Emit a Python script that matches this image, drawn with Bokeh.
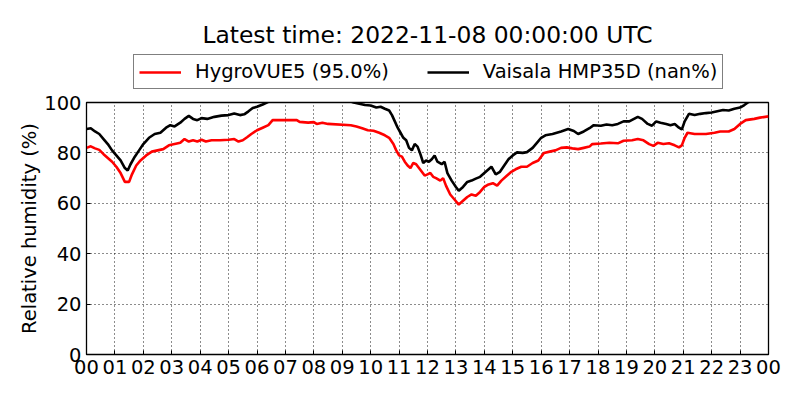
from bokeh.plotting import figure
from bokeh.models import FixedTicker, Legend, LegendItem, Range1d
from bokeh.layouts import column
from bokeh.embed import file_html
from bokeh.resources import INLINE

# ---- data (hours since 00 UTC, relative humidity %) ----
t_hygro = [0.0, 0.15, 0.3, 0.45, 0.6, 0.75, 0.9, 1.05, 1.2, 1.35, 1.5, 1.6, 1.75, 1.9, 2.1, 2.3, 2.5, 2.7,
           2.9, 3.1, 3.3, 3.45, 3.6, 3.75, 3.9, 4.05, 4.2, 4.4, 4.7, 5.0, 5.2, 5.35, 5.5, 5.65, 5.8, 6.0,
           6.2, 6.4, 6.55, 7.4, 7.5, 7.8, 8.0, 8.1, 8.3, 8.5, 9.3, 9.5, 9.7, 9.9, 10.1, 10.3, 10.5, 10.65,
           10.8, 10.9, 11.0, 11.1, 11.2, 11.3, 11.4, 11.5, 11.6, 11.7, 11.8, 11.9, 12.0, 12.1, 12.2, 12.3,
           12.45, 12.55, 12.65, 12.8, 12.95, 13.1, 13.25, 13.4, 13.55, 13.7, 13.85, 14.0, 14.15, 14.3,
           14.45, 14.6, 14.8, 14.95, 15.1, 15.3, 15.5, 15.7, 15.9, 16.1, 16.3, 16.5, 16.7, 16.9, 17.1,
           17.3, 17.5, 17.7, 17.8, 18.1, 18.4, 18.7, 18.9, 19.2, 19.4, 19.6, 19.8, 19.95, 20.1, 20.3,
           20.5, 20.7, 20.85, 20.95, 21.05, 21.15, 21.4, 21.8, 22.1, 22.3, 22.6, 22.8, 23.0, 23.2, 23.5,
           23.7, 24.0]
rh_hygro = [82.0, 82.6, 81.8, 81.2, 79.5, 78.0, 76.5, 74.5, 72.0, 68.5, 68.5, 71.5, 75.0, 77.0, 79.0, 80.5,
            81.0, 81.5, 83.0, 83.5, 84.0, 85.5, 84.5, 85.0, 84.5, 85.2, 84.5, 85.0, 85.0, 85.2, 85.5, 84.5,
            85.0, 86.2, 87.5, 89.0, 90.0, 91.0, 93.0, 93.0, 92.3, 92.0, 92.2, 91.5, 92.0, 91.5, 91.0, 90.5,
            89.8, 89.0, 88.8, 88.0, 87.0, 86.0, 83.5, 81.0, 79.0, 78.5, 76.5, 75.0, 74.0, 76.0, 75.5, 74.0,
            72.5, 71.0, 71.5, 72.0, 70.5, 70.0, 69.0, 70.0, 67.0, 63.5, 61.5, 59.5, 61.0, 62.5, 63.5, 63.0,
            64.5, 66.5, 67.5, 68.0, 67.0, 69.0, 71.0, 72.5, 73.5, 74.5, 74.5, 76.0, 77.0, 80.0, 80.5, 81.0,
            82.0, 82.2, 81.8, 81.5, 82.0, 82.5, 83.5, 83.7, 84.0, 83.8, 84.8, 85.0, 85.5, 85.0, 83.5, 82.8,
            84.0, 83.5, 83.8, 83.0, 82.2, 83.0, 86.0, 88.0, 87.5, 87.5, 88.0, 88.5, 88.5, 89.5, 91.5, 93.0,
            93.5, 94.0, 94.5]

t_vaisala = [0.0, 0.15, 0.3, 0.45, 0.6, 0.75, 0.9, 1.05, 1.2, 1.35, 1.45, 1.55, 1.7, 1.85, 2.0, 2.2, 2.4,
             2.6, 2.8, 2.95, 3.1, 3.3, 3.45, 3.6, 3.75, 3.9, 4.05, 4.25, 4.5, 4.75, 5.0, 5.2, 5.4, 5.55,
             5.7, 5.85, 6.0, 6.2, 6.4, 6.6, 7.0, 8.0, 8.8, 9.2, 9.4, 9.6, 9.8, 10.0, 10.2, 10.35, 10.5,
             10.65, 10.75, 10.85, 10.95, 11.05, 11.15, 11.25, 11.35, 11.45, 11.55, 11.65, 11.75, 11.85,
             11.95, 12.05, 12.15, 12.25, 12.35, 12.5, 12.6, 12.7, 12.85, 13.0, 13.1, 13.25, 13.4, 13.55,
             13.7, 13.85, 14.0, 14.15, 14.25, 14.4, 14.55, 14.7, 14.85, 15.0, 15.15, 15.35, 15.5, 15.7,
             15.85, 16.0, 16.15, 16.4, 16.7, 16.95, 17.15, 17.3, 17.5, 17.7, 17.85, 18.1, 18.3, 18.5,
             18.7, 18.9, 19.1, 19.4, 19.55, 19.75, 19.9, 20.05, 20.2, 20.4, 20.55, 20.7, 20.85, 20.95,
             21.05, 21.2, 21.4, 21.6, 21.8, 22.0, 22.2, 22.4, 22.6, 22.8, 23.0, 23.15, 23.3, 23.6, 24.0]
rh_vaisala = [89.5, 89.8, 88.5, 87.5, 85.5, 83.5, 81.0, 79.0, 77.0, 74.0, 73.0, 75.5, 78.5, 81.0, 83.5,
              86.0, 87.5, 88.0, 90.0, 91.0, 90.5, 92.0, 93.5, 94.7, 93.5, 93.0, 93.8, 93.5, 94.3, 94.8,
              95.0, 95.6, 95.0, 95.3, 96.5, 97.8, 98.3, 99.2, 100.3, 101.5, 103.0, 103.5, 102.0, 100.8,
              100.0, 99.5, 99.0, 98.8, 98.0, 98.3, 97.5, 96.8, 95.0, 92.5, 90.0, 88.0, 86.0, 85.0, 82.0,
              81.0, 83.5, 82.5, 79.5, 76.0, 77.0, 76.5, 77.5, 79.0, 76.5, 75.5, 76.5, 72.0, 69.0, 66.5,
              65.0, 66.5, 68.5, 69.0, 69.8, 70.5, 72.0, 73.5, 74.5, 71.5, 72.5, 75.0, 77.5, 79.0, 80.2,
              80.0, 80.3, 82.0, 84.0, 86.0, 87.0, 87.5, 88.5, 89.5, 88.7, 87.5, 88.5, 89.8, 91.0, 90.8,
              91.3, 91.0, 91.5, 92.5, 92.5, 94.3, 93.5, 91.5, 90.8, 92.5, 92.0, 91.5, 91.0, 91.5, 90.0,
              89.3, 92.5, 95.5, 95.0, 95.5, 95.8, 96.0, 96.5, 97.0, 96.8, 97.5, 98.0, 99.0, 100.2, 101.5,
              102.5]

x_ticks = list(range(0, 25))
x_tick_labels = ["%02d" % (h % 24) for h in x_ticks]
y_ticks = [0, 20, 40, 60, 80, 100]

title_text = "Latest time: 2022-11-08 00:00:00 UTC"
label_hygro = "HygroVUE5 (95.0%)"
label_vaisala = "Vaisala HMP35D (nan%)"

FONT = "DejaVu Sans"
COLOR_HYGRO = "red"
COLOR_VAISALA = "black"
LW = 2.6

# ---- header figure: title + legend (legend glyphs come from the same series, kept out of view) ----
top = figure(width=792, height=90, output_backend="svg", toolbar_location=None,
             x_range=Range1d(0, 1), y_range=Range1d(0, 1),
             x_axis_type=None, y_axis_type=None,
             min_border_left=86, min_border_right=24, min_border_top=54, min_border_bottom=0)
top.outline_line_color = None
top.background_fill_color = "white"
top.border_fill_color = "white"
top.title.text = title_text
top.title.align = "center"
top.title.text_font = FONT
top.title.text_font_size = "23.4px"
top.title.text_font_style = "normal"
top.title.text_color = "black"
top.title.standoff = 12

h1 = top.line(t_hygro, rh_hygro, line_color=COLOR_HYGRO, line_width=LW)
h2 = top.line(t_vaisala, rh_vaisala, line_color=COLOR_VAISALA, line_width=LW)

legend = Legend(items=[LegendItem(label=label_hygro, renderers=[h1]),
                       LegendItem(label=label_vaisala, renderers=[h2])],
                orientation="horizontal", location=(47, 1))
legend.label_text_font = FONT
legend.label_text_font_size = "19.5px"
legend.label_text_color = "black"
legend.glyph_width = 42
legend.glyph_height = 20
legend.label_standoff = 14
legend.spacing = 38
legend.padding = 5
legend.margin = 0
legend.border_line_color = "black"
legend.border_line_width = 1
legend.background_fill_alpha = 1
top.add_layout(legend, "center")

# ---- main plot ----
p = figure(width=792, height=302, output_backend="svg", toolbar_location=None, title=None,
           x_range=(0, 24), y_range=(0, 100),
           min_border_left=86, min_border_right=24, min_border_top=12, min_border_bottom=38)

p.line(t_hygro, rh_hygro, line_color=COLOR_HYGRO, line_width=LW)
p.line(t_vaisala, rh_vaisala, line_color=COLOR_VAISALA, line_width=LW)

p.outline_line_color = "black"
p.outline_line_width = 1.3
p.outline_line_alpha = 1
p.background_fill_color = "white"
p.border_fill_color = "white"

for ax in (p.xaxis[0], p.yaxis[0]):
    ax.major_label_text_font = FONT
    ax.major_label_text_font_size = "19.5px"
    ax.major_label_text_color = "black"
    ax.axis_line_color = "black"
    ax.major_tick_in = 4
    ax.major_tick_out = 0
    ax.minor_tick_in = 0
    ax.minor_tick_out = 0
    ax.major_tick_line_color = "black"

p.xaxis.ticker = FixedTicker(ticks=x_ticks)
p.xaxis.major_label_overrides = {t: lab for t, lab in zip(x_ticks, x_tick_labels)}
p.xaxis.major_label_standoff = 5
p.yaxis.ticker = FixedTicker(ticks=y_ticks)
p.yaxis.major_label_standoff = 5
p.yaxis.axis_label = "Relative humidity (%)"
p.yaxis.axis_label_text_font = FONT
p.yaxis.axis_label_text_font_size = "19.5px"
p.yaxis.axis_label_text_font_style = "normal"
p.yaxis.axis_label_text_color = "black"
p.yaxis.axis_label_standoff = 0

for g in (p.xgrid[0], p.ygrid[0]):
    g.grid_line_color = "black"
    g.grid_line_dash = "1 3"
    g.grid_line_width = 1
    g.grid_line_alpha = 0.9

layout = column(top, p, spacing=0)
open("out.html", "w").write(file_html(layout, INLINE))
